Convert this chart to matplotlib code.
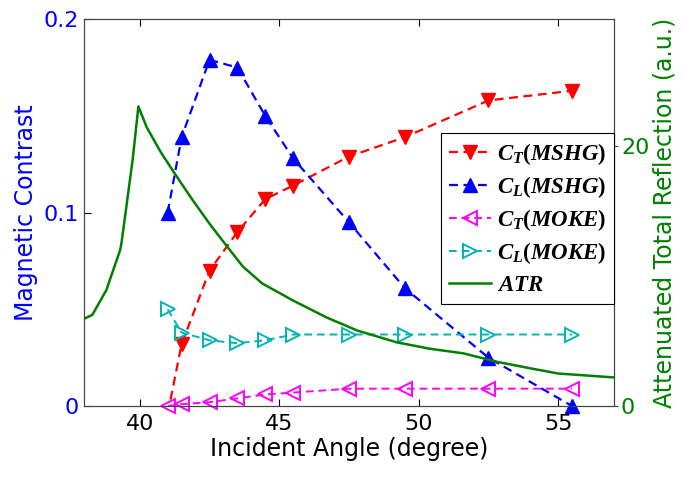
import matplotlib
matplotlib.use('Agg')
import matplotlib.pyplot as plt

# Data
angles = [41.0, 41.5, 42.5, 43.5, 44.5, 45.5, 47.5, 49.5, 52.5, 55.5]
ct_mshg = [-0.004, 0.032, 0.070, 0.090, 0.107, 0.114, 0.129, 0.139, 0.158, 0.163]
cl_mshg = [0.100, 0.139, 0.179, 0.175, 0.150, 0.128, 0.095, 0.061, 0.025, 0.000]
ct_moke = [0.000, 0.001, 0.002, 0.004, 0.006, 0.007, 0.009, 0.009, 0.009, 0.009]
cl_moke = [0.050, 0.038, 0.034, 0.0325, 0.034, 0.037, 0.037, 0.037, 0.037, 0.037]

atr_x = [38.0, 38.3, 38.8, 39.3, 39.35, 39.75, 39.95, 40.25, 40.75, 41.3, 41.9, 42.5,
         43.15, 43.7, 44.4, 45.5, 46.7, 47.8, 49.2, 50.4, 51.6, 52.8, 54.0, 55.0, 56.0, 57.0]
atr_y = [6.7, 7.0, 8.9, 12.0, 12.6, 19.0, 23.0, 21.4, 19.5, 17.7, 15.8, 14.0,
         12.2, 10.7, 9.4, 8.1, 6.8, 5.8, 4.9, 4.4, 4.05, 3.4, 2.9, 2.5, 2.35, 2.2]

plt.rcParams['font.family'] = 'DejaVu Sans'
plt.rcParams['mathtext.fontset'] = 'custom'
plt.rcParams['mathtext.it'] = 'Liberation Serif:italic:bold'
plt.rcParams['mathtext.rm'] = 'Liberation Serif:bold'
plt.rcParams['mathtext.bf'] = 'Liberation Serif:bold'

blue = '#0000FF'
green = '#008000'
cyan = '#00B4B4'

fig = plt.figure(figsize=(6.85, 4.80), dpi=100)
ax = fig.add_axes([0.1226, 0.154, 0.7737, 0.806])

dash = (0, (4, 2.5))
l1, = ax.plot(angles, ct_mshg, color='red', ls=dash, lw=1.6, marker='v', ms=10,
              label=r'$C_T(MSHG)$')
l2, = ax.plot(angles, cl_mshg, color=blue, ls=dash, lw=1.6, marker='^', ms=10,
              label=r'$C_L(MSHG)$', clip_on=False)
l3, = ax.plot(angles, ct_moke, color='magenta', ls=dash, lw=1.4, marker='<', ms=10,
              mfc='none', mew=1.4, label=r'$C_T(MOKE)$', clip_on=False)
l4, = ax.plot(angles, cl_moke, color=cyan, ls=dash, lw=1.4, marker='>', ms=10,
              mfc='none', mew=1.4, label=r'$C_L(MOKE)$')

ax.set_xlim(38, 57)
ax.set_ylim(0, 0.2)
ax.set_xticks([40, 45, 50, 55])
ax.set_yticks([0, 0.1, 0.2])
ax.set_yticklabels(['0', '0.1', '0.2'])
ax.tick_params(axis='x', direction='in', top=True, labelsize=16, length=5, pad=6)
ax.tick_params(axis='y', direction='in', labelsize=16, length=5, labelcolor=blue)
ax.set_xlabel('Incident Angle (degree)', fontsize=17, labelpad=2)
ax.set_ylabel('Magnetic Contrast', fontsize=17, color=blue, labelpad=4)
for s in ax.spines.values():
    s.set_color('#444444')

ax2 = ax.twinx()
l5, = ax2.plot(atr_x, atr_y, color=green, lw=1.8, label=r'$ATR$')
ax2.set_ylim(0, 29.7)
ax2.set_yticks([0, 20])
ax2.tick_params(axis='y', direction='out', length=3, labelsize=16, colors=green, pad=2)
ax2.set_ylabel('Attenuated Total Reflection (a.u.)', fontsize=17, color=green, labelpad=2)
for s in ax2.spines.values():
    s.set_color('#444444')

leg = ax2.legend(handles=[l1, l2, l3, l4, l5], loc='upper right',
                 bbox_to_anchor=(1.0, 0.705), borderaxespad=0, fontsize=16.5,
                 fancybox=False, edgecolor='black', framealpha=1,
                 handlelength=1.85, handletextpad=0.25, labelspacing=0.3,
                 borderpad=0.35)
leg.get_frame().set_linewidth(0.8)

fig.savefig('out.png', dpi=100)
